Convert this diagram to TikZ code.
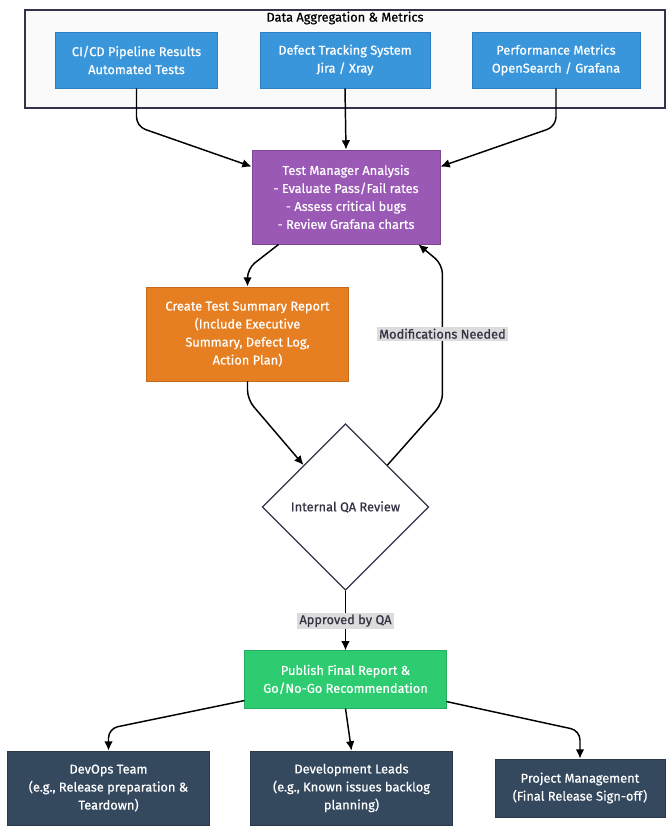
\documentclass[tikz,border=0pt]{standalone}
\usepackage{fontspec}
\setmainfont{Fira Sans}[FakeBold=0.6, UprightFeatures={FakeBold=0.6}]
\usetikzlibrary{shapes.geometric,arrows.meta,calc}
\definecolor{cblue}{HTML}{3A96DB}
\definecolor{cblueb}{HTML}{2D7FC0}
\definecolor{cpurp}{HTML}{9B59B6}
\definecolor{corg}{HTML}{E67E22}
\definecolor{cgrn}{HTML}{2ECC71}
\definecolor{cdark}{HTML}{34495E}
\definecolor{cframe}{HTML}{33334A}
\definecolor{ctext}{HTML}{333344}
\definecolor{clbl}{HTML}{DCDCDC}
\begin{document}
\begin{tikzpicture}[x=0.75pt,y=-0.75pt,
  font=\fontsize{9.6}{13.5}\selectfont,
  box/.style={draw, line width=0.6pt, align=center, text=white, inner sep=2pt},
  conn/.style={draw=black, line width=1.1pt, rounded corners=7pt, -{Latex[length=7pt,width=6.5pt]}},
  lbl/.style={fill=clbl, text=ctext, inner sep=1.5pt, sharp corners}]
\useasboundingbox (0,0) rectangle (670,835);
% container
\draw[cframe, line width=1.2pt, fill=gray!4] (25,10) rectangle (665,108);
\node[text=black] (title) at (345,18) {Data Aggregation \& Metrics};
% data sources
\node[box, fill=cblue, draw=cblueb, minimum width=122pt, minimum height=42pt] (b1) at (136.5,60) {CI/CD Pipeline Results\\Automated Tests};
\node[box, fill=cblue, draw=cblueb, minimum width=127.5pt, minimum height=42pt] (b2) at (345,60) {Defect Tracking System\\Jira / Xray};
\node[box, fill=cblue, draw=cblueb, minimum width=126pt, minimum height=42pt] (b3) at (556,60) {Performance Metrics\\OpenSearch / Grafana};
% analysis
\node[box, fill=cpurp, draw=cpurp!80!black, minimum width=141pt, minimum height=70.5pt] (pur) at (346,197) {Test Manager Analysis\\- Evaluate Pass/Fail rates\\- Assess critical bugs\\- Review Grafana charts};
\node[box, fill=corg, draw=corg!85!black, minimum width=151pt, minimum height=70.5pt] (org) at (247.5,334) {Create Test Summary Report\\(Include Executive\\Summary, Defect Log,\\Action Plan)};
\node[draw=cframe, line width=0.9pt, fill=white, shape=diamond, shape aspect=1, minimum width=125pt, minimum height=125pt, inner sep=0pt, text=ctext] (dia) at (345.5,507) {Internal QA Review};
\node[box, fill=cgrn, draw=cgrn!85!black, minimum width=151pt, minimum height=43pt] (grn) at (345.5,679.5) {Publish Final Report \&\\Go/No-Go Recommendation};
\node[box, fill=cdark, draw=cdark!80!black, minimum width=151pt, minimum height=55.5pt] (dev) at (108.5,788) {DevOps Team\\(e.g., Release preparation \&\\Teardown)};
\node[box, fill=cdark, draw=cdark!80!black, minimum width=151pt, minimum height=55.5pt] (lead) at (351.5,788) {Development Leads\\(e.g., Known issues backlog\\planning)};
\node[box, fill=cdark, draw=cdark!80!black, minimum width=127.5pt, minimum height=43.5pt] (pm) at (580,788) {Project Management\\(Final Release Sign-off)};
% connectors
\draw[conn] (b1.south) -- ++(0,38) -- ($(pur.north west)+(0,17)$);
\draw[conn] (b2.south) -- (pur.north);
\draw[conn] (b3.south) -- ++(0,38) -- ($(pur.north east)+(0,17)$);
\draw[conn] ($(pur.south west)+(27,0)$) -- ($(org.north)+(0,-18)$) -- (org.north);
\draw[conn] (org.south) -- ++(0,18) -- (dia.north west);
\draw[conn] (dia.north east) -- ($(dia.north east)+(55,-62)$) -- node[lbl] {Modifications Needed} ($(pur.south east)+(2,20)$) -- ($(pur.south east)+(-22,0)$);
\draw[conn] (dia.south) -- node[lbl] {Approved by QA} (grn.north);
\draw[conn] ($(grn.south west)+(0,-8)$) -- ($(dev.north)+(0,-22)$) -- (dev.north);
\draw[conn] (grn.south) -- (lead.north);
\draw[conn] ($(grn.south east)+(0,-7)$) -- ($(pm.north)+(0,-28)$) -- (pm.north);
\end{tikzpicture}
\end{document}
